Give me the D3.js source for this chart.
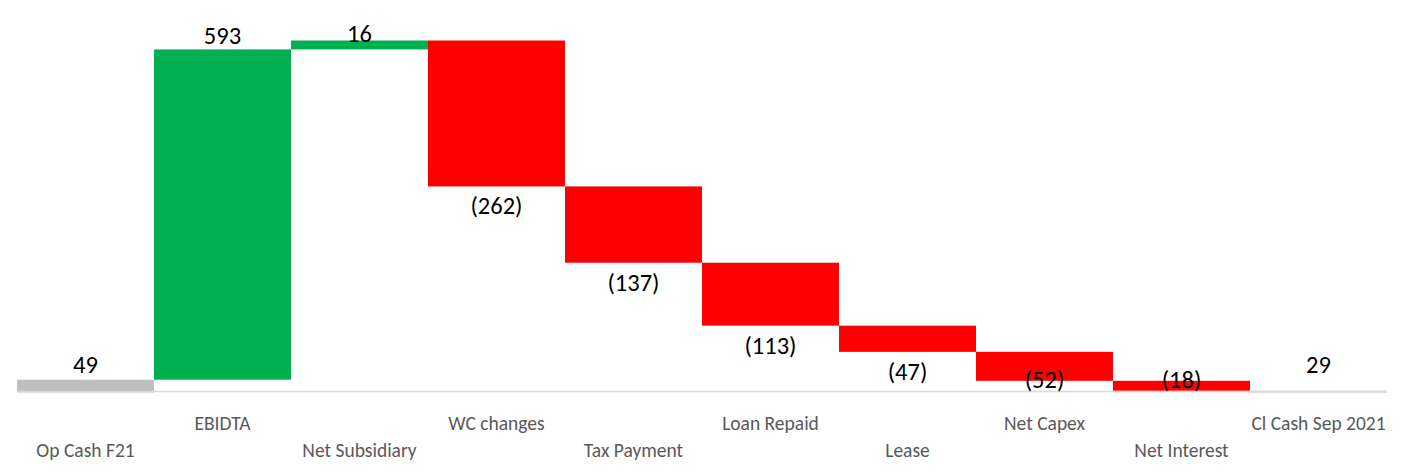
<!DOCTYPE html>
<html><head><meta charset="utf-8">
<script src="https://cdn.jsdelivr.net/npm/d3@7"></script>
<style>body{margin:0;background:#fff}svg{display:block}text{font-family:Carlito,Calibri,Lato,"Open Sans",sans-serif}</style>
</head><body><svg id="c" width="1405" height="472"></svg>
<script>
const categories = ["Op Cash F21","EBIDTA","Net Subsidiary","WC changes","Tax Payment","Loan Repaid","Lease","Net Capex","Net Interest","Cl Cash Sep 2021"];
const values = [49, 593, 16, -262, -137, -113, -47, -52, -18, 29];
const kinds = ["total","delta","delta","delta","delta","delta","delta","delta","delta","total"];
const labels = ["49","593","16","(262)","(137)","(113)","(47)","(52)","(18)","29"];

const svg = d3.select("#c");
const x = d3.scaleBand().domain(categories).range([17, 1387]).padding(0);
const y = d3.scaleLinear().domain([26, 658]).range([392.5, 40.5]);

let run = 0;
const rows = categories.map((c, i) => {
  let a, b;
  if (kinds[i] === "total") { a = y.domain()[0]; b = values[i]; run = values[i]; }
  else { a = run; b = run + values[i]; run = b; }
  return {c, v: values[i], kind: kinds[i], lo: Math.min(a, b), hi: Math.max(a, b), label: labels[i], i};
});
const color = d => d.kind === "total" ? "#bfbfbf" : (d.v >= 0 ? "#00b050" : "#ff0000");

svg.append("g").selectAll("rect").data(rows).join("rect")
  .attr("x", d => x(d.c)).attr("width", x.bandwidth())
  .attr("y", d => y(d.hi)).attr("height", d => Math.max(0.8, y(d.lo) - y(d.hi)))
  .attr("fill", color);

const axisY = 391.5;
svg.append("line").attr("x1", 17).attr("x2", 1387).attr("y1", axisY).attr("y2", axisY)
  .attr("stroke", "#d9d9d9").attr("stroke-width", 1.5);

svg.append("g").selectAll("text").data(rows).join("text")
  .attr("x", d => x(d.c) + x.bandwidth() / 2)
  .attr("y", d => {
    let cy;
    if (d.v >= 0) cy = Math.min(Math.max(y(d.hi) - 14, 33), axisY - 27);
    else cy = Math.min(y(d.lo) + 19.5, axisY - 12);
    return cy;
  })
  .attr("dy", "0.35em").attr("text-anchor", "middle")
  .attr("font-size", 24.5).attr("fill", "#000").text(d => d.label);

svg.append("g").selectAll("text").data(rows).join("text")
  .attr("x", d => x(d.c) + x.bandwidth() / 2)
  .attr("y", d => d.i % 2 === 1 ? 423 : 450)
  .attr("dy", "0.35em").attr("text-anchor", "middle")
  .attr("font-size", 19.5).attr("fill", "#595959").text(d => d.c);
</script></body></html>
